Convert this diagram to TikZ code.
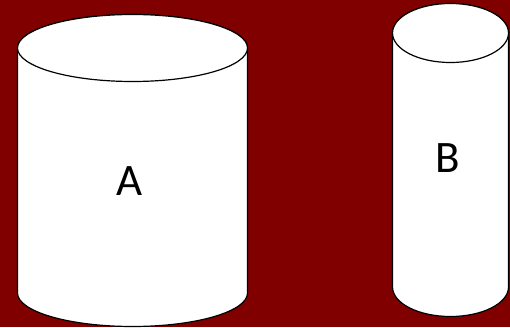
\documentclass[tikz,border=0pt]{standalone}
\usepackage{fontspec}
\setmainfont{Carlito}
\definecolor{bgred}{HTML}{800000}
\tikzset{
  cyl/.style={draw=black, line width=1.2pt, fill=white},
  lbl/.style={font=\fontsize{45}{54}\selectfont, text=black, inner sep=0pt}
}
\begin{document}
\begin{tikzpicture}[x=1pt,y=1pt]
\fill[bgred] (0,0) rectangle (510,327);
\useasboundingbox (0,0) rectangle (510,327);
% Cylinder A
\path[cyl] (17.5,279) -- (17.5,34) arc[start angle=180,end angle=360,x radius=115,y radius=33.5] -- (247.5,279) arc[start angle=0,end angle=180,x radius=115,y radius=33.5] -- cycle;
\draw[cyl] (132.5,279) ellipse[x radius=115,y radius=33.5];
\node[lbl] (a) at (129.5,146) {A};
% Cylinder B
\path[cyl] (392.5,294) -- (392.5,40) arc[start angle=180,end angle=360,x radius=58,y radius=29.5] -- (508.5,294) arc[start angle=0,end angle=180,x radius=58,y radius=29.5] -- cycle;
\draw[cyl] (450.5,294) ellipse[x radius=58,y radius=29.5];
\node[lbl] (b) at (447.5,169) {B};
\end{tikzpicture}
\end{document}
